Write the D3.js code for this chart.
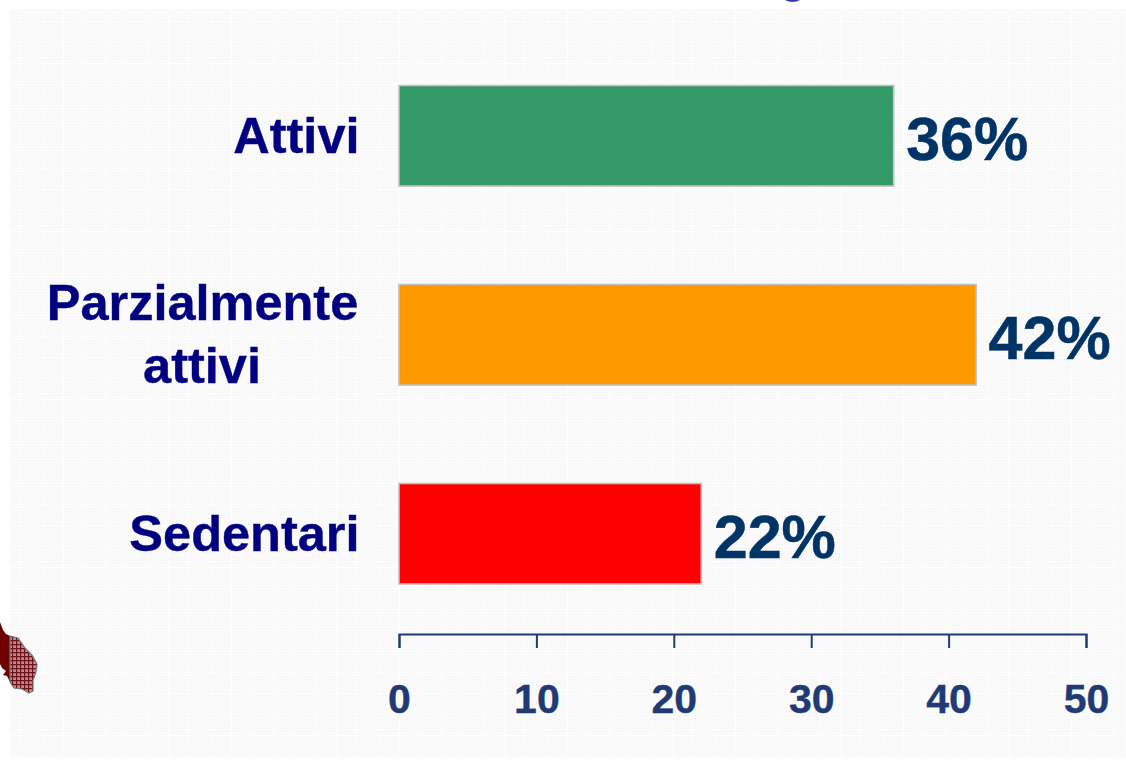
<!DOCTYPE html>
<html><head><meta charset="utf-8">
<script src="https://cdn.jsdelivr.net/npm/d3@7/dist/d3.min.js"></script>
<style>html,body{margin:0;padding:0;background:#fff}svg{display:block}text{font-family:"Liberation Sans",Arial,sans-serif;font-weight:700}</style>
</head><body><div id="c"></div>
<script>
const categories = ["Attivi", "Parzialmente attivi", "Sedentari"];
const values = [36, 42, 22];
const colors = ["#339966", "#FF9900", "#FF0000"];
const tickValues = [0, 10, 20, 30, 40, 50];
const W = 1126, H = 760;
const svg = d3.select("#c").append("svg").attr("width", W).attr("height", H);
const defs = svg.append("defs");
const tex = defs.append("pattern").attr("id","tex").attr("patternUnits","userSpaceOnUse").attr("width",42).attr("height",42);
tex.append("rect").attr("width",42).attr("height",42).attr("fill","#f8f8f8");
d3.range(0,42,3).forEach(i=>{
  tex.append("rect").attr("x",i).attr("width",1).attr("height",42).attr("fill",i%21===0?"#ffffff":"#fbfbfb");
  tex.append("rect").attr("y",i).attr("width",42).attr("height",1).attr("fill",i%21===0?"#ffffff":"#fbfbfb");
});
const hatch = defs.append("pattern").attr("id","hatch").attr("patternUnits","userSpaceOnUse").attr("width",4).attr("height",4);
hatch.append("rect").attr("width",4).attr("height",4).attr("fill","#c08a8a");
hatch.append("path").attr("d","M0 .5H4M.5 0V4").attr("stroke","#6e1018").attr("stroke-width",1.3);
svg.append("rect").attr("x",10).attr("y",9).attr("width",W-10).attr("height",H-9-2).attr("fill","url(#tex)");

// bottom edge of the cut-off title glyph at the top of the picture
svg.append("path").attr("d","M785 0H800Q797 2 792.5 2Q788 2 785 0Z").attr("fill","#3a3ab0");

// map fragment
svg.append("path").attr("d","M0 622L3 630L6 634L10 636L10 682L7 676L3 675L6 671L2 668L0 664Z").attr("fill","#6e0000");
svg.append("path").attr("d","M10 636L18 638L25 648L32 655L37 664L36 672L33 680L33 691L29 693L22 689L14 688L10 682Z").attr("fill","url(#hatch)").attr("stroke","#777").attr("stroke-width",1.2);

const x = d3.scaleLinear().domain([0,50]).range([399,1086]);
const y = d3.scaleBand().domain(categories).range([85.5,584]).paddingInner(0.495).paddingOuter(0);

svg.selectAll("rect.bar").data(categories).join("rect").attr("class","bar")
  .attr("x",x(0)).attr("y",d=>y(d)).attr("width",(d,i)=>x(values[i])-x(0)).attr("height",y.bandwidth())
  .attr("fill",(d,i)=>colors[i]).attr("stroke","#c0c0c0").attr("stroke-width",1.6);

svg.selectAll("text.val").data(categories).join("text").attr("class","val")
  .attr("x",(d,i)=>x(values[i])+12.5).attr("y",d=>y(d)+y.bandwidth()/2+24)
  .attr("font-size",61).attr("fill","#003366").attr("stroke","#003366").attr("stroke-width",0.5).text((d,i)=>values[i]+"%");

const lab = svg.selectAll("text.cat").data(categories).join("text").attr("class","cat")
  .attr("text-anchor","middle").attr("font-size",50.5).attr("fill","#000080").attr("stroke","#000080").attr("stroke-width",0.4);
lab.each(function(d){
  const t = d3.select(this), parts = d.split(" "), cy = y(d)+y.bandwidth()/2;
  if(parts.length===1){ t.attr("text-anchor","end").attr("x",359.5).attr("y",cy+17.5).text(d); }
  else parts.forEach((p,i)=>t.append("tspan").attr("x",i===0?202.5:202).attr("y",cy+(i===0?-14.5:48.5)).text(p));
});

const ax = svg.append("g").attr("transform","translate(0,634)")
  .call(d3.axisBottom(x).tickValues(tickValues).tickSize(14).tickSizeOuter(14).tickPadding(36));
ax.selectAll("path,line").attr("stroke","#1f3a75").attr("stroke-width",2);
ax.selectAll("text").attr("font-size",41).attr("fill","#1f3a75").attr("stroke","#1f3a75").attr("stroke-width",0.4).attr("font-family",'"Liberation Sans",Arial,sans-serif').attr("font-weight",700);
</script></body></html>
